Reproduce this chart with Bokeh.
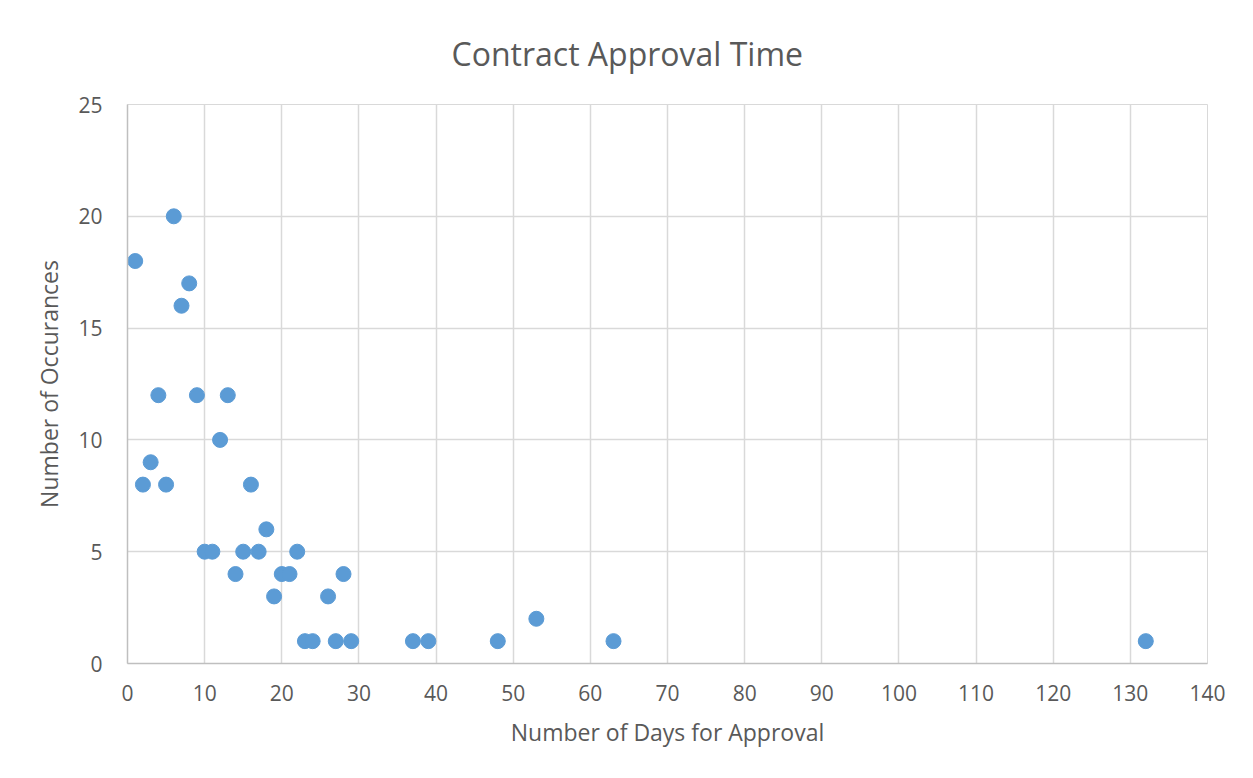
from bokeh.plotting import figure
from bokeh.models import Range1d, SingleIntervalTicker
from bokeh.embed import file_html
from bokeh.resources import INLINE

days = [1, 2, 3, 4, 5, 6, 7, 8, 9, 10, 11, 12, 13, 14, 15, 16, 17, 18, 19, 20,
        21, 22, 23, 24, 26, 27, 28, 29, 37, 39, 48, 53, 63, 132]
occurrences = [18, 8, 9, 12, 8, 20, 16, 17, 12, 5, 5, 10, 12, 4, 5, 8, 5, 6, 3, 4,
               4, 5, 1, 1, 3, 1, 4, 1, 1, 1, 1, 2, 1, 1]

FONT = "Open Sans"
TXT = "#595959"
GRID = "#d9d9d9"

p = figure(width=1245, height=770, output_backend="svg", toolbar_location=None,
           x_range=Range1d(0, 140), y_range=Range1d(0, 25),
           min_border_left=127, min_border_right=38, min_border_top=104,
           min_border_bottom=107, title="Contract Approval Time")

p.title.align = "left"
p.title.offset = 324
p.title.text_font = FONT
p.title.text_font_size = "32px"
p.title.text_font_style = "normal"
p.title.text_color = TXT
p.title.standoff = 59

p.scatter(days, occurrences, size=15, fill_color="#5b9bd5", line_color="#5b9bd5")

p.xaxis.ticker = SingleIntervalTicker(interval=10)
p.yaxis.ticker = SingleIntervalTicker(interval=5)
for ax in (p.xaxis, p.yaxis):
    ax.major_tick_line_color = None
    ax.minor_tick_line_color = None
    ax.axis_line_color = "#bfbfbf"
    ax.axis_line_width = 1.5
    ax.major_label_text_font = FONT
    ax.major_label_text_font_size = "21px"
    ax.major_label_text_color = TXT
    ax.axis_label_text_font = FONT
    ax.axis_label_text_font_size = "23px"
    ax.axis_label_text_font_style = "normal"
    ax.axis_label_text_color = TXT

p.xaxis.axis_label = "Number of Days for Approval"
p.yaxis.axis_label = "Number of Occurances"
p.xaxis.major_label_standoff = 15
p.yaxis.major_label_standoff = 19
p.xaxis.axis_label_standoff = 12
p.yaxis.axis_label_standoff = 10

p.xgrid.grid_line_color = GRID
p.ygrid.grid_line_color = GRID
p.xgrid.grid_line_width = 1.5
p.ygrid.grid_line_width = 1.5
p.outline_line_color = GRID

open("out.html", "w").write(file_html(p, INLINE))
